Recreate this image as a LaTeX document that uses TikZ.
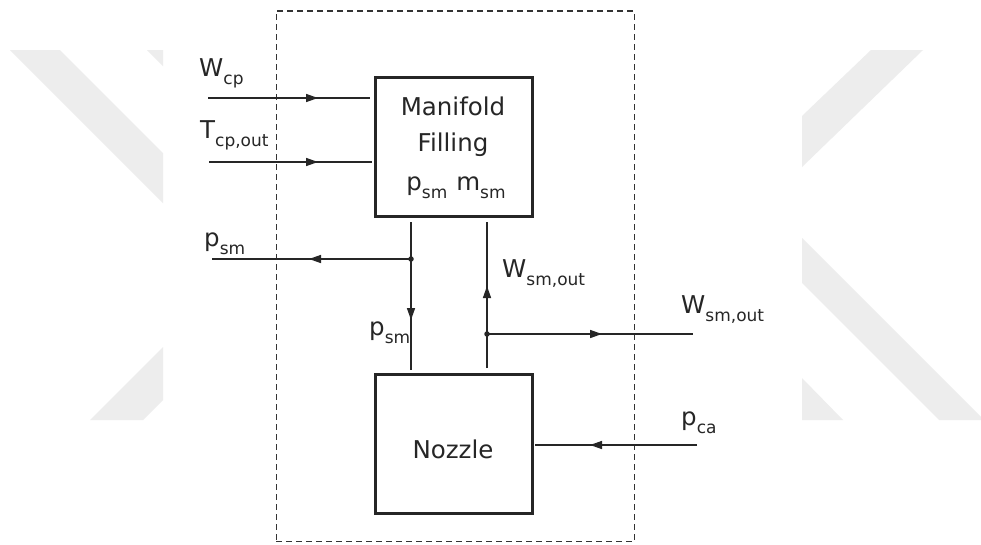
\documentclass[tikz,border=0pt]{standalone}
\usepackage{fontspec}
\setmainfont{DejaVu Sans}
\usetikzlibrary{arrows.meta,decorations.markings}
\newcommand\sbx[2]{#1\raisebox{-8pt}{\fontsize{17}{17}\selectfont #2}}
\begin{document}
\begin{tikzpicture}[x=1pt,y=-1pt,
  wm/.style={fill=black!7,draw=none},
  blk/.style={draw=black!85,line width=3pt,minimum width=156.5pt,minimum height=139pt,inner sep=0pt},
  txt/.style={font=\fontsize{24.5}{29}\selectfont,inner sep=0pt,text=black!85},
  lbl/.style={txt,anchor=base west},
  flow/.style={draw=black!85,line width=1.5pt},
  tipat/.style={postaction={decorate},decoration={markings,mark=at position #1 with {\arrow{Triangle[length=12pt,width=8pt]}}}},
  jdot/.style={circle,fill=black!85,inner sep=0pt,minimum size=5.5pt},
  dashbox/.style={draw=black!80,line width=1.5pt,dash pattern=on 6pt off 4pt,inner sep=0pt}]
\useasboundingbox (0,0) rectangle (981,544);
\fill[white] (0,0) rectangle (981,544);
% watermark
\fill[wm] (10,50) -- (60,50) -- (163,153) -- (163,203) -- cycle;
\fill[wm] (147,50) -- (163,50) -- (163,66) -- cycle;
\fill[wm] (90,420) -- (163,347) -- (163,400) -- (143,420) -- cycle;
\fill[wm] (871,50) -- (923,50) -- (802,167) -- (802,116) -- cycle;
\fill[wm] (802,238) -- (981,417) -- (981,420) -- (939,420) -- (802,283) -- cycle;
\fill[wm] (802,378) -- (802,420) -- (843,420) -- cycle;
% system border
\node[dashbox,minimum width=358pt,minimum height=530.7pt] (S) at (455.3,276.35) {};
% blocks
\node[blk] (M) at (453.75,147.2) {};
\node[blk,minimum height=139.3pt] (N) at (453.75,443.7) {};
\node[txt,anchor=base] (M1) at (453,115) {Manifold};
\node[txt,anchor=base] (M2) at (453,151) {Filling};
\node[txt,anchor=base] (M3) at (456,190) {\sbx{p}{sm}\hspace{9pt}\sbx{m}{sm}};
\node[txt,anchor=base] (N1) at (453,458) {Nozzle};
% labels
\node[lbl] (Lw) at (199,76) {\sbx{W}{cp}};
\node[lbl] (Lt) at (200,138) {\sbx{T}{cp,out}};
\node[lbl] (Lp) at (204,246) {\sbx{p}{sm}};
\node[lbl] (Lp2) at (369,335) {\sbx{p}{sm}};
\node[lbl] (Lw2) at (502,277) {\sbx{W}{sm,out}};
\node[lbl] (Lw3) at (681,313) {\sbx{W}{sm,out}};
\node[lbl] (Lpc) at (681,425) {\sbx{p}{ca}};
% coordinates
\coordinate (wA) at (208,98); \coordinate (wB) at (370,98);
\coordinate (tA) at (209,162); \coordinate (tB) at (372,162);
\coordinate (j1) at (411,259); \coordinate (pA) at (212,259);
\coordinate (v1t) at (411,222); \coordinate (v1b) at (411,370);
\coordinate (v2t) at (487,222); \coordinate (v2b) at (487,368);
\coordinate (j2) at (487,334); \coordinate (oB) at (693,334);
\coordinate (cA) at (697,445); \coordinate (cB) at (535,445);
% connectors
\draw[flow,tipat=110pt] (wA) -- (wB);
\draw[flow,tipat=109pt] (tA) -- (tB);
\draw[flow,tipat=102pt] (j1) -- (pA);
\draw[flow,tipat=98pt] (v1t) -- (v1b);
\draw[flow,tipat=82pt] (v2b) -- (v2t);
\draw[flow,tipat=115pt] (j2) -- (oB);
\draw[flow,tipat=107pt] (cA) -- (cB);
\node[jdot] (d1) at (j1) {};
\node[jdot] (d2) at (j2) {};
\end{tikzpicture}
\end{document}
